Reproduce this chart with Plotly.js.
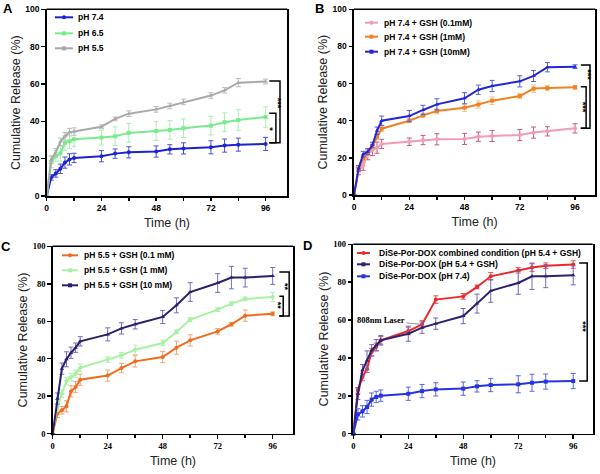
<!DOCTYPE html>
<html>
<head>
<meta charset="utf-8">
<script src="https://cdn.plot.ly/plotly-3.0.1.min.js"></script>
<style>html,body{margin:0;padding:0;background:#fff;}#chart{width:600px;height:474px;}</style>
</head>
<body>
<div id="chart"></div>
<script>
// ---------- DATA ----------
const time = [0, 2, 4, 6, 8, 10, 12, 24, 30, 36, 48, 54, 60, 72, 78, 84, 96];
const xTicks = [0, 24, 48, 72, 96];
const yTicks = [0, 20, 40, 60, 80, 100];

// Panel A
const namesA = ['pH 7.4', 'pH 6.5', 'pH 5.5'];
const a74    = [0, 10.0, 12.1, 14.6, 17.9, 19.6, 20.4, 21.3, 22.7, 23.4, 23.8, 25.0, 25.5, 26.1, 27.0, 27.5, 27.9];
const a74Err = [0, 1.5, 2, 2.5, 3, 3, 2.5, 3, 2.5, 3, 3, 2.5, 3, 3.5, 3.5, 3.5, 3.5];
const a65    = [0, 18.2, 21.4, 22.8, 28.5, 29.3, 30.4, 31.3, 32.0, 33.8, 34.8, 35.4, 36.3, 37.7, 39.5, 40.7, 42.3];
const a65Err = [0, 3, 3, 4, 4, 4, 4, 4, 5, 5, 5, 5, 5, 5, 5, 5.5, 5.5];
const a55    = [0, 19.5, 23.5, 29.0, 32.0, 34.2, 34.5, 37.1, 41.3, 44.1, 46.4, 48.2, 50.4, 53.8, 56.6, 60.7, 61.3];
const a55Err = [0, 2, 2, 2, 2, 2, 2, 1, 1, 1.5, 1.5, 1.5, 1.5, 1.5, 1.5, 2.2, 1.3];

// Panel B
const namesB = ['pH 7.4 + GSH (0.1mM)', 'pH 7.4 + GSH (1mM)', 'pH 7.4 + GSH (10mM)'];
const b01    = [0, 12.9, 15.8, 22.0, 24.2, 25.5, 27.5, 28.7, 29.6, 30.0, 30.2, 31.4, 31.8, 32.3, 33.6, 34.3, 35.9];
const b01Err = [0, 2, 2.5, 3, 3, 3, 2.5, 2, 2.5, 3, 3, 2.5, 3, 3, 3, 2.5, 2.5];
const b1     = [0, 13.8, 19.7, 22.4, 26.4, 31.4, 35.7, 40.0, 42.9, 45.2, 47.0, 48.7, 50.8, 53.3, 57.3, 57.6, 58.0];
const b1Err  = [0, 1.5, 1.5, 1.5, 1.5, 1.5, 1.5, 1, 1, 1.5, 2, 2, 2, 1.5, 2, 1.5, 1];
const b10    = [0, 14.4, 22.0, 23.3, 26.9, 34.6, 40.0, 42.5, 45.8, 48.8, 52.1, 56.7, 58.7, 61.2, 64.1, 68.8, 69.1];
const b10Err = [0, 1.5, 1.5, 1.5, 1.5, 2, 2.5, 3, 2.5, 3, 3, 2.5, 3, 3, 3, 2.5, 1];

// Panel C
const namesC = ['pH 5.5 + GSH (0.1 mM)', 'pH 5.5 + GSH (1 mM)', 'pH 5.5 + GSH (10 mM)'];
const c01    = [0, 10.7, 12.5, 14.6, 22.6, 24.9, 28.8, 31.0, 35.0, 38.6, 40.9, 45.9, 49.8, 54.6, 58.4, 63.0, 64.0];
const c01Err = [0, 2, 2, 3, 3, 3, 3, 3, 2.5, 3, 3, 3.5, 3, 1.5, 1, 3, 1];
const c1     = [0, 14.2, 21.4, 28.1, 30.2, 32.0, 35.2, 39.5, 41.8, 44.8, 48.4, 54.3, 60.9, 66.2, 69.4, 71.9, 73.0];
const c1Err  = [0, 2, 2, 2, 2, 2, 2, 1.5, 1.5, 2.5, 1.5, 1, 1, 1, 1, 1, 2.5];
const c10    = [0, 18.7, 34.7, 39.7, 43.2, 45.9, 49.3, 53.0, 56.2, 58.4, 62.3, 68.5, 75.6, 80.4, 83.3, 83.3, 84.2];
const c10Err = [0, 3, 3, 4, 3, 2.5, 2.5, 3.5, 3, 2.5, 3.5, 4, 5, 5, 6, 5, 4.5];

// Panel D
const namesD = ['DiSe-Por-DOX combined condition (pH 5.4 + GSH)', 'DiSe-Por-DOX (pH 5.4 + GSH)', 'DiSe-Por-DOX (pH 7.4)'];
const dComb    = [0, 22.9, 29.9, 34.3, 43.1, 45.8, 49.3, 54.2, 57.7, 70.8, 72.5, 77.5, 83.1, 86.3, 87.7, 88.7, 89.3];
const dCombErr = [0, 1.5, 2, 2, 2, 2, 2, 2, 2, 2, 1.5, 1, 2, 1.5, 2, 1.5, 2];
const dGsh     = [0, 21.0, 33.5, 38.7, 44.0, 46.7, 49.3, 52.8, 56.0, 58.1, 62.1, 68.7, 75.4, 79.6, 83.1, 83.1, 83.6];
const dGshErr  = [0, 3, 3, 5, 3, 3, 2.5, 4, 3, 3, 4, 5, 6, 6, 7, 6, 5];
const d74      = [0, 10.2, 11.8, 14.1, 18.0, 19.4, 20.1, 21.1, 22.5, 23.4, 23.8, 25.0, 25.7, 26.1, 26.9, 27.5, 27.8];
const d74Err   = [0, 3, 3, 3.5, 3.5, 3, 3, 3.5, 3.5, 3.5, 3.5, 3, 3.5, 4.5, 4.5, 4, 4];

const laserText = '808nm Laser';
const laserTime = 30;
const laserValue = 57.7;

// significance brackets: [fromValue, toValue, label]
const sigA = [[61.6, 28.5, '***'], [44.3, 28.5, '*']];
const sigB = [[70.0, 35.9, '***'], [58.3, 35.9, '***']];
const sigC = [[86.3, 62.8, '**'], [73.3, 62.8, '**']];
const sigD = [[90.1, 27.8, '***']];

// ---------- STYLE / LAYOUT ----------
const W = 600, H = 474;
const px = p => p / W;
const py = p => 1 - p / H;
const SANS = 'Liberation Sans, Arial, sans-serif';
const SERIF = 'Liberation Serif, Times New Roman, serif';

const panels = [
  {id: '', box: [46.7, 287.3, 9.3, 196], xmax: 105.5, tickFamily: SANS, letter: 'A', letterPos: [7.5, 8],
   series: [
     {name: namesA[0], y: a74, e: a74Err, color: '#1c22d2', ecolor: '#4b50d8', sym: 'circle', size: 4},
     {name: namesA[1], y: a65, e: a65Err, color: '#78ec8c', ecolor: '#a8f0b0', sym: 'square', size: 4},
     {name: namesA[2], y: a55, e: a55Err, color: '#a9a9a9', ecolor: '#bdbdbd', sym: 'triangle-up', size: 4}],
   legend: {x1: 55, x2: 73, tx: 76, ys: [17.3, 33.3, 48.3], size: 8.5},
   sig: sigA, sx1: 97.6, sxv: [102.3, 100.5], lbl: [[101.2, 49.7], [98.2, 36.0]]},
  {id: '2', box: [354, 595.3, 9.3, 195], xmax: 104.8, tickFamily: SANS, letter: 'B', letterPos: [319, 8],
   series: [
     {name: namesB[0], y: b01, e: b01Err, color: '#f49ab8', ecolor: '#c45a8a', sym: 'circle', size: 4},
     {name: namesB[1], y: b1, e: b1Err, color: '#f08224', ecolor: '#f6c28a', sym: 'square', size: 4},
     {name: namesB[2], y: b10, e: b10Err, color: '#2226d4', ecolor: '#5560dc', sym: 'triangle-up', size: 4}],
   legend: {x1: 365, x2: 378, tx: 381.7, ys: [22.7, 36.7, 51.7], size: 8.5},
   sig: sigB, sx1: 98.5, sxv: [102.5, 100.8], lbl: [[101.5, 64.6], [99.5, 47.5]]},
  {id: '3', box: [52.7, 293.3, 246.3, 433.7], xmax: 105, tickFamily: SERIF, letter: 'C', letterPos: [6, 246],
   series: [
     {name: namesC[0], y: c01, e: c01Err, color: '#f26a1c', ecolor: '#f0a678', sym: 'circle', size: 4},
     {name: namesC[1], y: c1, e: c1Err, color: '#a6f2a2', ecolor: '#b6ecb6', sym: 'diamond', size: 4},
     {name: namesC[2], y: c10, e: c10Err, color: '#2d1f6c', ecolor: '#7a6cc4', sym: 'triangle-up', size: 4}],
   legend: {x1: 62, x2: 78, tx: 81.7, ys: [255.3, 270.3, 285.3], size: 8.5},
   sig: sigC, sx1: 98.9, sxv: [103.2, 100.6], lbl: [[101.4, 78.3], [98.5, 68.1]]},
  {id: '4', box: [353.3, 592.7, 244.3, 433.7], xmax: 104.5, tickFamily: SERIF, letter: 'D', letterPos: [307.5, 245.5],
   series: [
     {name: namesD[0], y: dComb, e: dCombErr, color: '#ee2828', ecolor: '#e25a5a', sym: 'circle', size: 4},
     {name: namesD[1], y: dGsh, e: dGshErr, color: '#2e226e', ecolor: '#7266bc', sym: 'triangle-up', size: 4},
     {name: namesD[2], y: d74, e: d74Err, color: '#2534e0', ecolor: '#5a66e2', sym: 'square', size: 4}],
   legend: {x1: 357, x2: 370, tx: 377.3, ys: [253, 264.3, 276.3], size: 8.5},
   sig: sigD, sx1: 98.6, sxv: [102.1], lbl: [[100.2, 56.3]]}
];

const traces = [];
const layout = {
  width: W, height: H,
  margin: {l: 0, r: 0, t: 0, b: 0},
  paper_bgcolor: '#ffffff', plot_bgcolor: '#ffffff',
  showlegend: false,
  font: {family: SANS, color: '#000'},
  shapes: [], annotations: []
};

panels.forEach(p => {
  const xa = 'x' + p.id, ya = 'y' + p.id;
  const xk = 'xaxis' + p.id, yk = 'yaxis' + p.id;
  const tickfont = {family: p.tickFamily, size: 8.5, color: '#000', weight: 'bold'};
  const titlefont = {family: SANS, size: 12.5, color: '#222', weight: 'normal'};
  layout[xk] = {
    domain: [px(p.box[0]), px(p.box[1])], anchor: ya, range: [0, p.xmax],
    showline: true, linecolor: '#000', linewidth: 1.5, mirror: false,
    ticks: 'outside', ticklen: 3.5, tickwidth: 1.5, tickcolor: '#000',
    tickvals: xTicks, tickfont: tickfont, showgrid: false, zeroline: false,
    minor: {ticks: 'outside', ticklen: 3, tickwidth: 1.5, tickcolor: '#000', dtick: 12, tick0: 0, showgrid: false},
    title: {text: 'Time (h)', font: titlefont, standoff: 6}
  };
  layout[yk] = {
    domain: [py(p.box[3]), py(p.box[2])], anchor: xa, range: [0, 100],
    showline: true, linecolor: '#000', linewidth: 2, mirror: true,
    ticks: 'outside', ticklen: 3.5, tickwidth: 1.5, tickcolor: '#000',
    tickvals: yTicks, tickfont: tickfont, showgrid: false, zeroline: false,
    title: {text: 'Cumulative Release (%)', font: titlefont, standoff: 2}
  };
  // top border of the frame
  layout.shapes.push({type: 'line', xref: xa + ' domain', yref: ya + ' domain', x0: 0, x1: 1, y0: 1, y1: 1,
    line: {color: '#000', width: 1.5}});

  p.series.forEach((s, i) => {
    traces.push({
      type: 'scatter', mode: 'lines+markers', name: s.name, x: time, y: s.y,
      xaxis: xa, yaxis: ya,
      line: {color: s.color, width: 2},
      marker: {color: s.color, symbol: s.sym, size: s.size},
      error_y: {type: 'data', array: s.e, visible: true, color: s.ecolor, thickness: 1, width: 2.5},
      cliponaxis: false
    });
    // legend entry (drawn manually to match the compact sample lines)
    const ly = p.legend.ys[i];
    layout.shapes.push({type: 'line', xref: 'paper', yref: 'paper',
      x0: px(p.legend.x1), x1: px(p.legend.x2), y0: py(ly), y1: py(ly),
      line: {color: s.color, width: 2}});
    const cx = (p.legend.x1 + p.legend.x2) / 2;
    layout.shapes.push({type: s.sym === 'circle' ? 'circle' : 'rect', xref: 'paper', yref: 'paper',
      x0: px(cx - 2), x1: px(cx + 2), y0: py(ly + 2), y1: py(ly - 2),
      fillcolor: s.color, line: {color: s.color, width: 0}});
    layout.annotations.push({xref: 'paper', yref: 'paper', x: px(p.legend.tx), y: py(ly),
      xanchor: 'left', yanchor: 'middle', showarrow: false, text: s.name,
      font: {family: SANS, size: p.legend.size, color: '#000', weight: 'bold'}});
  });

  // significance brackets
  p.sig.forEach((g, k) => {
    const xv = p.sxv[k];
    layout.shapes.push({type: 'path', xref: xa, yref: ya,
      path: `M ${p.sx1},${g[0]} L ${xv},${g[0]} L ${xv},${g[1]} L ${p.sx1},${g[1]}`,
      line: {color: '#000', width: 1.5}});
    layout.annotations.push({xref: xa, yref: ya, x: p.lbl[k][0], y: p.lbl[k][1], text: g[2],
      showarrow: false, textangle: 90, xanchor: 'center', yanchor: 'middle',
      font: {family: SANS, size: 9, color: '#000', weight: 'bold'}});
  });

  // panel letter
  layout.annotations.push({xref: 'paper', yref: 'paper', x: px(p.letterPos[0]), y: py(p.letterPos[1]),
    xanchor: 'center', yanchor: 'middle', showarrow: false, text: p.letter,
    font: {family: SANS, size: 13, color: '#000', weight: 'bold'}});
});

// 808nm laser annotation in panel D
layout.annotations.push({xref: 'x4', yref: 'y4', x: laserTime, y: laserValue, text: laserText,
  showarrow: true, arrowhead: 0, arrowwidth: 0.8, arrowcolor: '#777', ax: -41, ay: -4,
  font: {family: SERIF, size: 8.5, color: '#000', weight: 'bold'}});

Plotly.newPlot('chart', traces, layout, {staticPlot: true, displayModeBar: false});
</script>
</body>
</html>
